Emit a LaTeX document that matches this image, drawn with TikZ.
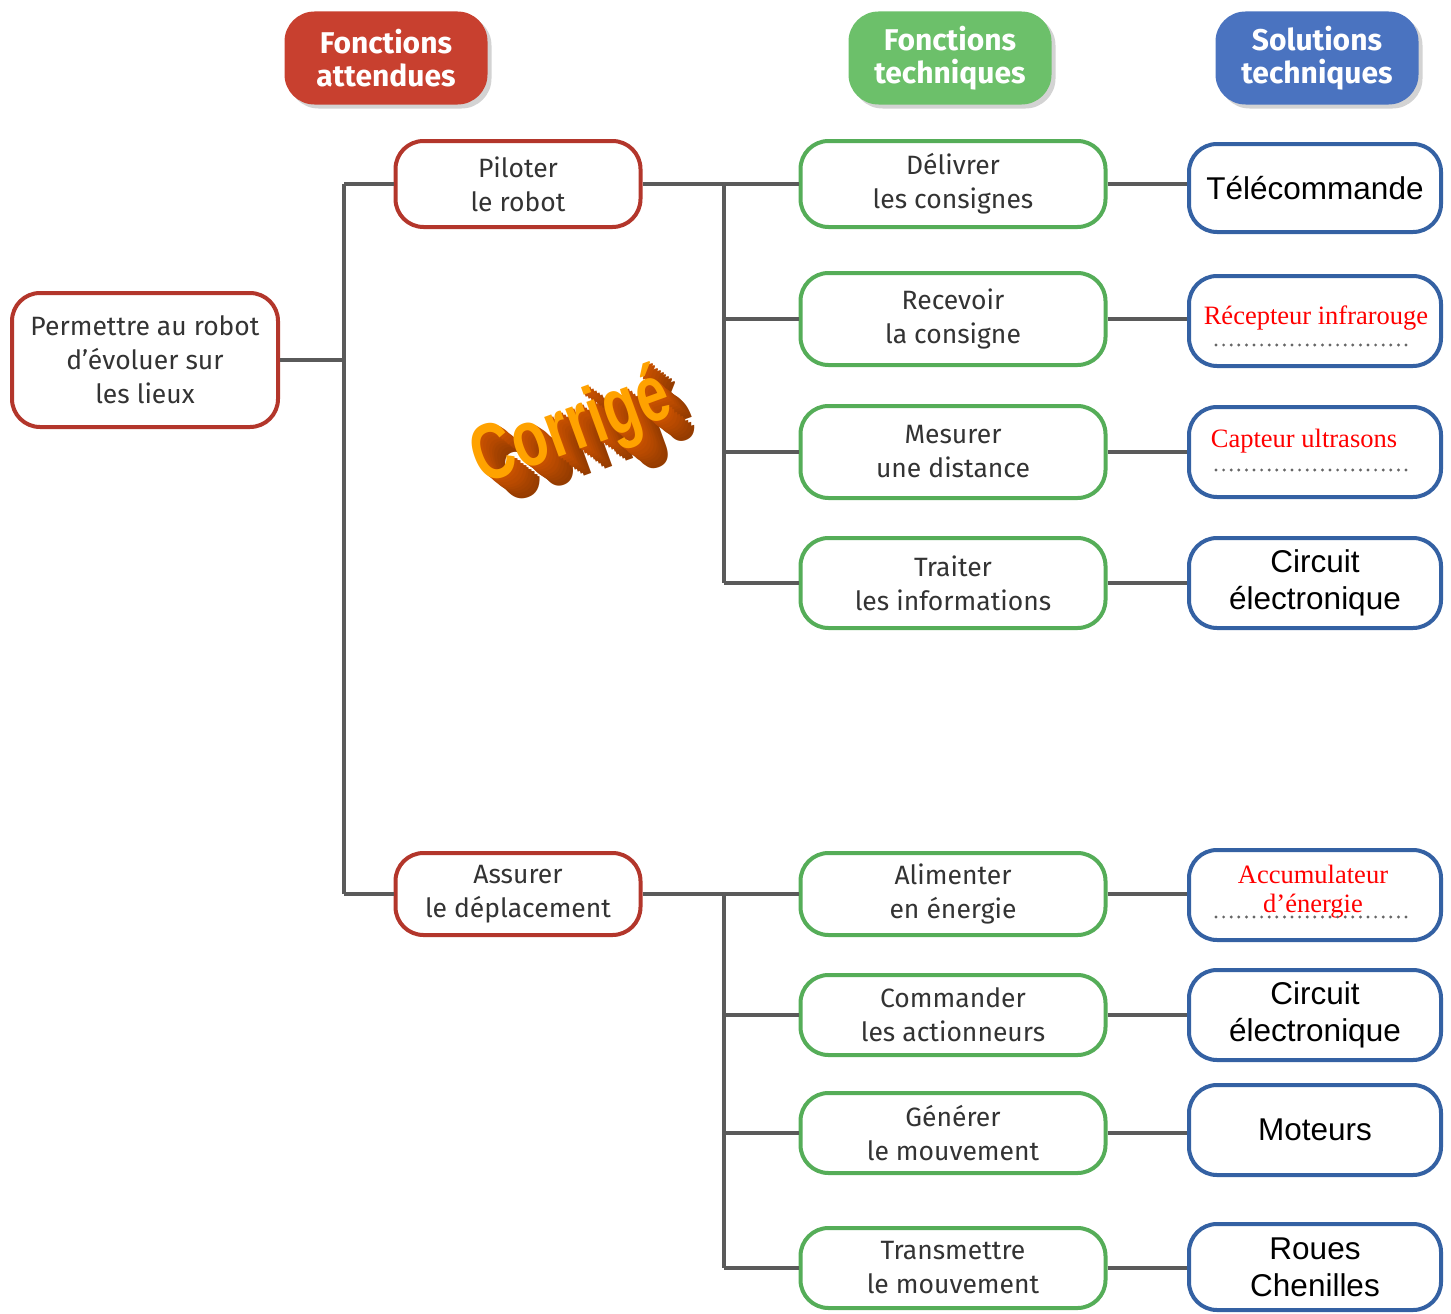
\documentclass[tikz,border=0pt]{standalone}
\usepackage{fontspec}
\setmainfont{Fira Sans}
\newfontfamily\arialf{Liberation Sans}
\newfontfamily\timesf{Liberation Serif}
\usetikzlibrary{shadows}
\definecolor{hdrred}{HTML}{C8402F}
\definecolor{hdrgreen}{HTML}{6CC06A}
\definecolor{hdrblue}{HTML}{4A73C0}
\definecolor{bred}{HTML}{B3362B}
\definecolor{bgreen}{HTML}{55AD58}
\definecolor{bblue}{HTML}{3461A3}
\definecolor{conncol}{HTML}{5A5A5A}
\definecolor{txt}{HTML}{333333}
\definecolor{extcol}{HTML}{CC5200}
\definecolor{frontcol}{HTML}{FFA200}
\begin{document}
\begin{tikzpicture}[x=1pt,y=-1pt,
  box/.style={draw, line width=4pt, rounded corners=28pt, fill=white, align=center, inner sep=0pt, text=txt, font=\fontsize{26.5}{34}\selectfont},
  redbox/.style={box, draw=bred, minimum width=245pt, minimum height=86pt},
  greenbox/.style={box, draw=bgreen, minimum width=305pt, minimum height=86pt},
  bluebox/.style={box, draw=bblue, minimum width=252pt, minimum height=88pt, text=black, font=\arialf\fontsize{31.5}{37}\selectfont},
  hdr/.style={rounded corners=30pt, minimum width=203pt, minimum height=93pt, text=white, font=\bfseries\fontsize{30}{33}\selectfont, align=center, drop shadow={opacity=0.35, shadow xshift=4pt, shadow yshift=-4pt}},
  conn/.style={draw=conncol, line width=4pt},
  ans/.style={text=red, font=\timesf\fontsize{26.5}{29}\selectfont, align=center, inner sep=0pt},
  dotline/.style={draw=black!60, line width=3.2pt, line cap=round, dash pattern=on 0pt off 7.6pt},
  corrstyle/.style={rotate=20, font=\arialf\bfseries\fontsize{80}{80}\selectfont, xscale=0.72, inner sep=0pt}
]
\useasboundingbox (0,0) rectangle (1451,1314);

% headers
\node[hdr, fill=hdrred] (h1) at (386,58) {Fonctions\\attendues};
\node[hdr, fill=hdrgreen] (h2) at (950,58) {Fonctions\\techniques};
\node[hdr, fill=hdrblue] (h3) at (1317,58) {Solutions\\techniques};

% left
\node[redbox, minimum width=266pt, minimum height=134pt] (goal) at (145,360) {Permettre au robot\\d’évoluer sur\\les lieux};
\node[redbox] (pil) at (518,184) {Piloter\\le robot};
\node[redbox, minimum height=82pt] (ass) at (518,894) {Assurer\\le déplacement};

% green
\node[greenbox] (f1) at (953,184) {Délivrer\\les consignes};
\node[greenbox, minimum height=92pt] (f2) at (953,319) {Recevoir\\la consigne};
\node[greenbox, minimum height=92pt] (f3) at (953,452) {Mesurer\\une distance};
\node[greenbox, minimum height=90pt] (f4) at (953,583) {Traiter\\les informations};
\node[greenbox, minimum height=82pt] (f5) at (953,894) {Alimenter\\en énergie};
\node[greenbox, minimum height=80pt] (f6) at (953,1015) {Commander\\les actionneurs};
\node[greenbox, minimum height=80pt] (f7) at (953,1133) {Générer\\le mouvement};
\node[greenbox, minimum height=80pt] (f8) at (953,1268) {Transmettre\\le mouvement};

% blue
\node[bluebox] (b1) at (1315,188) {Télécommande};
\node[bluebox, minimum height=90pt] (b2) at (1315,321) {};
\node[bluebox, minimum height=90pt] (b3) at (1315,452) {};
\node[bluebox, minimum height=90pt] (b4) at (1315,583) {Circuit\\électronique};
\node[bluebox, minimum height=90pt] (b5) at (1315,895) {};
\node[bluebox, minimum height=90pt] (b6) at (1315,1015) {Circuit\\électronique};
\node[bluebox, minimum height=90pt] (b7) at (1315,1130) {Moteurs};
\node[bluebox, minimum height=86pt] (b8) at (1315,1267) {Roues\\Chenilles};

% answers
\node[ans] (a2) at (1316,318) {Récepteur infrarouge};
\draw[dotline] (1216,345) -- (1413,345);
\node[ans] (a3) at (1304,441) {Capteur ultrasons};
\draw[dotline] (1216,470) -- (1413,470);
\node[ans] (a5) at (1313,892) {Accumulateur\\d’énergie};
\draw[dotline] (1216,917) -- (1413,917);

% connectors left
\coordinate (vL1) at (344,184);
\coordinate (vL2) at (344,894);
\draw[conn] (goal.east) -- (goal.east -| vL1);
\draw[conn] (vL1) -- (vL2);
\draw[conn] (vL1) -- (pil.west);
\draw[conn] (vL2) -- (ass.west);

% connectors top group
\coordinate (vR1) at (724,184);
\coordinate (vR2) at (724,583);
\draw[conn] (pil.east) -- (f1.west);
\draw[conn] (vR1) -- (vR2);
\draw[conn] (f2.west -| vR1) -- (f2.west);
\draw[conn] (f3.west -| vR1) -- (f3.west);
\draw[conn] (vR2) -- (f4.west);

% connectors bottom group
\coordinate (vS1) at (724,894);
\coordinate (vS2) at (724,1268);
\draw[conn] (ass.east) -- (f5.west);
\draw[conn] (vS1) -- (vS2);
\draw[conn] (f6.west -| vS1) -- (f6.west);
\draw[conn] (f7.west -| vS1) -- (f7.west);
\draw[conn] (vS2) -- (f8.west);

% green -> blue
\foreach \g/\b in {f1/b1,f2/b2,f3/b3,f4/b4,f5/b5,f6/b6,f7/b7,f8/b8}
  \draw[conn] (\g.east) -- (\g.east -| \b.west);

% Corrige watermark (3D extrusion)
\foreach \i in {9,8,...,1}
  \node[corrstyle, text=extcol!\fpeval{100-\i*3}!black, xshift=\i*2.6pt, yshift=-\i*3pt] (corr\i) at (572,430) {Corrigé};
\node[corrstyle, text=frontcol] (corr) at (572,430) {Corrigé};
\end{tikzpicture}
\end{document}
